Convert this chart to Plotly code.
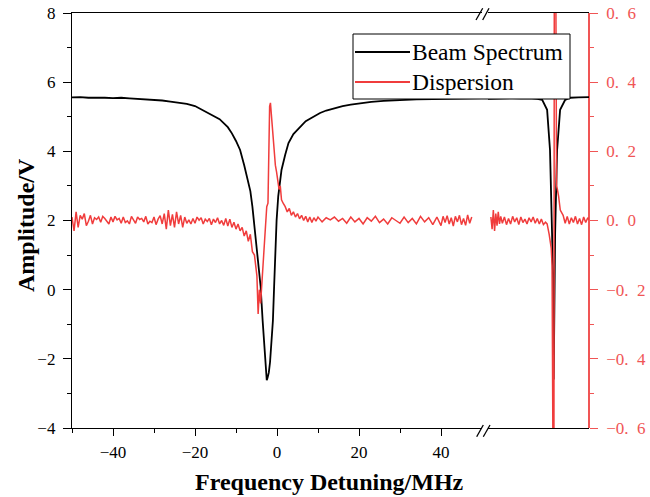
import plotly.graph_objects as go

# ---------------- data ----------------
# Left segment (MHz, -50..50)
beam_x = [-50, -48, -46, -44, -42, -40, -38, -36, -34, -32, -30, -28, -26, -24, -22, -20,
          -18, -16, -14, -12, -11, -10, -9, -8, -7, -6.5, -6, -5.5, -5, -4.5, -4, -3.5, -3,
          -2.7, -2.5, -2.3, -2, -1.7, -1.3, -1, -0.7, -0.4, -0.1, 0.3, 0.7, 1.1, 2, 2.8, 4,
          5.6, 7, 8.9, 10.5, 12, 14, 16, 18, 20, 23, 26, 30, 34, 38, 42, 46, 50]
beam_y = [5.56, 5.57, 5.55, 5.56, 5.55, 5.54, 5.55, 5.53, 5.52, 5.51, 5.48, 5.47, 5.44, 5.41,
          5.37, 5.31, 5.18, 5.07, 4.93, 4.7, 4.52, 4.3, 4.04, 3.6, 3.15, 2.85, 2.4, 1.85, 1.3,
          0.75, 0.1, -0.9, -1.95, -2.4, -2.62, -2.55, -2.4, -2.1, -1.4, -0.9, 0.1, 1.1, 2.0,
          2.7, 3.15, 3.46, 3.9, 4.24, 4.5, 4.71, 4.87, 5.0, 5.11, 5.18, 5.25, 5.31, 5.35, 5.39,
          5.43, 5.46, 5.49, 5.5, 5.51, 5.52, 5.53, 5.54]

disp_x = [-50, -49.5, -49, -48.5, -48, -47.5, -47, -46.5, -46, -45.5, -45, -44.5, -44, -43.5,
          -43, -42.5, -42, -41.5, -41, -40.5, -40, -39.5, -39, -38.5, -38, -37.5, -37, -36.5,
          -36, -35.5, -35, -34.5, -34, -33.5, -33, -32.5, -32, -31.5, -31, -30.5, -30, -29.5,
          -29, -28.5, -28, -27.5, -27, -26.5, -26, -25.5, -25, -24.5, -24, -23.5, -23, -22.5,
          -22, -21.5, -21, -20.5, -20, -19.5, -19, -18.5, -18, -17.5, -17, -16.5, -16, -15.5,
          -15, -14.5, -14, -13.5, -13, -12.5, -12, -11.5, -11, -10.5, -10, -9.5, -9, -8.5, -8,
          -7.5, -7, -6.5, -6, -5.5, -5.2, -4.9, -4.6, -4.3, -4.0, -3.7, -3.4, -3.1, -2.8, -2.5,
          -2.2, -2.0, -1.8, -1.6, -1.3, -1.0, -0.7, -0.4, -0.1, 0.2, 0.5, 0.8, 1.1, 1.5, 2, 2.5,
          3, 3.5, 4, 4.5, 5, 5.5, 6, 6.5, 7, 7.5, 8, 8.5, 9, 9.5, 10, 11, 12, 13, 14, 15, 16,
          17, 18, 19, 20, 21, 22, 23, 24, 25, 26, 27, 28, 29, 30, 31, 32, 33, 34, 35, 36, 37,
          38, 39, 40, 40.5, 41, 41.5, 42, 42.5, 43, 43.5, 44, 44.5, 45, 45.5, 46, 46.5, 47,
          47.5, 48, 48.5, 49, 49.6]
disp_y = [0.01, -0.03, 0.025, -0.02, 0.015, 0.004, 0.02, -0.015, -0.002, 0.015, -0.01, 0.008,
          0.003, 0.01, -0.005, 0.012, 0.006, -0.004, -0.01, 0.01, -0.004, 0.012, 0.002, 0.006,
          -0.008, 0.01, -0.006, -0.001, -0.01, 0.012, 0.0, -0.008, 0.01, 0.003, 0.006, -0.004,
          0.012, -0.01, -0.002, -0.006, 0.01, -0.012, 0.004, 0.014, -0.01, 0.02, -0.025, 0.03,
          -0.015, 0.018, -0.02, 0.025, -0.01, 0.015, -0.02, 0.01, -0.008, 0.002, -0.01, 0.006,
          -0.008, 0.01, 0.001, 0.008, -0.01, 0.004, -0.003, 0.006, -0.012, 0.004, -0.006,
          0.008, -0.01, 0.0, -0.014, 0.006, -0.016, 0.004, -0.02, -0.005, -0.025, -0.01, -0.03,
          -0.02, -0.045, -0.03, -0.06, -0.04, -0.09, -0.1, -0.13, -0.16, -0.27, -0.2, -0.24,
          -0.19, -0.13, -0.07, -0.01, 0.04, 0.05, 0.2, 0.33, 0.34, 0.29, 0.27, 0.19, 0.16, 0.14,
          0.12, 0.09, 0.1, 0.06, 0.05, 0.04, 0.025, 0.035, 0.015, 0.025, 0.01, 0.02, 0.005,
          0.015, 0.0, 0.012, -0.004, 0.01, -0.006, 0.008, -0.002, 0.01, -0.004, 0.008, 0.002,
          0.01, -0.002, 0.006, -0.008, 0.01, -0.004, 0.006, -0.01, 0.008, -0.002, 0.012,
          -0.006, 0.004, -0.01, 0.008, 0.0, -0.008, 0.01, -0.006, 0.006, -0.01, 0.012, -0.004,
          0.008, -0.012, 0.01, -0.015, 0.012, -0.006, 0.014, -0.01, 0.008, -0.016, 0.012,
          -0.004, 0.015, -0.012, 0.006, -0.014, 0.016, -0.008, 0.01]

# Right segment (relative MHz around the second resonance)
beam2_x = [-16, -14, -12, -10, -8, -6, -4, -2.8, -1.6, -0.9, -0.4, -0.15, 0.0, 0.15, 0.35,
           0.83, 1.56, 2.8, 4, 6, 8.6]
beam2_y = [5.52, 5.53, 5.52, 5.54, 5.53, 5.54, 5.52, 5.49, 5.2, 4.04, 1.64, 0.28, -2.6, -0.5,
           1.64, 4.04, 5.2, 5.49, 5.55, 5.56, 5.57]

disp2_x = [-15.3, -15.0, -14.7, -14.4, -14.1, -13.8, -13.5, -13.2, -12.9, -12.5, -12, -11.5,
           -11, -10.5, -10, -9.5, -9, -8.5, -8, -7.5, -7, -6.5, -6, -5.5, -5, -4.5, -4, -3.5,
           -3, -2.5, -2.0, -1.6, -1.1, -0.6, -0.4, -0.15, 0.05, 0.15, 0.5, 0.7, 0.9, 1.2, 1.6,
           2.3, 2.8, 3.3, 3.8, 4.3, 4.8, 5.3, 5.8, 6.3, 6.8, 7.3, 7.8, 8.3, 8.6]
disp2_y = [0.01, -0.025, 0.03, -0.03, 0.02, -0.015, 0.025, -0.01, 0.012, -0.008, 0.01,
           -0.012, 0.006, -0.01, 0.012, -0.004, 0.008, -0.012, 0.01, -0.006, 0.004, -0.01,
           0.008, -0.004, 0.01, -0.008, 0.006, -0.01, 0.004, -0.012, -0.005, -0.01, -0.04,
           -0.08, -0.13, -0.75, -0.75, 0.75, 0.75, 0.1, 0.09, 0.07, 0.03, 0.015, -0.008, 0.012,
           -0.01, 0.008, -0.006, 0.012, -0.01, 0.006, -0.012, 0.01, -0.006, 0.008, 0.002]

names = ["Beam Spectrum", "Dispersion"]
y_ticks = [-4, -2, 0, 2, 4, 6, 8]
y2_ticks = [-0.6, -0.4, -0.2, 0.0, 0.2, 0.4, 0.6]
y2_ticktext = ["\u22120.\u20026", "\u22120.\u20024", "\u22120.\u20022", "0.\u20020",
               "0.\u20022", "0.\u20024", "0.\u20026"]
x_ticks = [-40, -20, 0, 20, 40]
x_minor = [-50, -30, -10, 10, 30]

# ---------------- styling ----------------
BLACK = "#000000"
RED = "#F03C3C"
RED_AX = "#F05555"
FONT = "Liberation Serif"
W, H = 650, 497
L, R, T, B = 72, 589, 13, 428  # plot area in pixels


def px(x):
    return (x - L) / (R - L)


def py(y):
    return (B - y) / (B - T)


split1 = px(482)
split2 = px(488)

fig = go.Figure()
fig.add_trace(go.Scatter(x=beam_x, y=beam_y, mode="lines", name=names[0],
                         line=dict(color=BLACK, width=1.8), xaxis="x", yaxis="y",
                         showlegend=False))
fig.add_trace(go.Scatter(x=beam2_x, y=beam2_y, mode="lines", name=names[0],
                         line=dict(color=BLACK, width=1.8), xaxis="x2", yaxis="y",
                         showlegend=False))
fig.add_trace(go.Scatter(x=disp_x, y=disp_y, mode="lines", name=names[1],
                         line=dict(color=RED, width=1.5), xaxis="x", yaxis="y2",
                         showlegend=False))
fig.add_trace(go.Scatter(x=disp2_x, y=disp2_y, mode="lines", name=names[1],
                         line=dict(color=RED, width=1.5), xaxis="x2", yaxis="y2",
                         showlegend=False))

tickfont = dict(family=FONT, size=17, color=BLACK)

fig.update_layout(
    width=W, height=H, autosize=False,
    margin=dict(l=L, r=W - R, t=T, b=H - B, pad=0, autoexpand=False),
    paper_bgcolor="white", plot_bgcolor="white",
    showlegend=False,
    xaxis=dict(domain=[0, split1], range=[-50, 50], anchor="y", automargin=False,
               showline=True, linecolor=BLACK, linewidth=1.3, mirror=True,
               showgrid=False, zeroline=False,
               tickmode="array", tickvals=x_ticks, ticks="outside", ticklen=7,
               tickwidth=1.3, tickcolor=BLACK, tickfont=tickfont, ticklabelstandoff=1,
               minor=dict(tickmode="array", tickvals=x_minor, ticks="outside",
                          ticklen=4, tickwidth=1.3, tickcolor=BLACK)),
    xaxis3=dict(overlaying="x", side="top", range=[-50, 50], anchor="y", automargin=False,
                showline=False, showgrid=False, zeroline=False, showticklabels=False,
                tickmode="array", tickvals=x_ticks, ticks="inside", ticklen=7,
                tickwidth=1.3, tickcolor=BLACK,
                minor=dict(tickmode="array", tickvals=x_minor, ticks="inside",
                           ticklen=4, tickwidth=1.3, tickcolor=BLACK)),
    xaxis2=dict(domain=[split2, 1], range=[-16, 8.6], anchor="y", automargin=False,
                showline=True, linecolor=BLACK, linewidth=1.3, mirror=True,
                showgrid=False, zeroline=False, showticklabels=False, ticks=""),
    yaxis=dict(range=[-4, 8], anchor="x", domain=[0, 1], automargin=False,
               showline=True, linecolor=BLACK, linewidth=1.3,
               showgrid=False, zeroline=False,
               tickmode="array", tickvals=y_ticks, ticks="outside", ticklen=8,
               tickwidth=1.3, tickcolor=BLACK, tickfont=tickfont, ticklabelstandoff=4,
               minor=dict(dtick=1, tick0=0, ticks="outside", ticklen=4,
                          tickwidth=1.3, tickcolor=BLACK)),
    yaxis2=dict(range=[-0.6, 0.6], overlaying="y", side="right", anchor="free",
                position=1.0, automargin=False,
                showline=True, linecolor=RED_AX, linewidth=1.5,
                showgrid=False, zeroline=False,
                tickmode="array", tickvals=y2_ticks, ticktext=y2_ticktext,
                ticks="outside", ticklen=8, tickwidth=1.3, tickcolor=RED_AX,
                tickfont=dict(family=FONT, size=17, color=RED_AX), ticklabelstandoff=5,
                minor=dict(dtick=0.1, tick0=0, ticks="outside", ticklen=4,
                           tickwidth=1.3, tickcolor=RED_AX)),
)

shapes = []
# axis-break marks "//"
for (x0, y0, x1, y1) in [(476.7, 436.7, 483.3, 425), (483.3, 436.7, 490, 425),
                         (476, 20, 482.7, 8.3), (482.7, 20, 489, 8.3)]:
    shapes.append(dict(type="line", xref="paper", yref="paper",
                       x0=px(x0), y0=py(y0), x1=px(x1), y1=py(y1),
                       line=dict(color=BLACK, width=1.3)))
# legend box
shapes.append(dict(type="rect", xref="paper", yref="paper",
                   x0=px(353), y0=py(99), x1=px(570), y1=py(34),
                   fillcolor="white", line=dict(color=BLACK, width=1)))
legend_rows = [(52, BLACK), (82, RED)]
for (yy, col) in legend_rows:
    shapes.append(dict(type="line", xref="paper", yref="paper",
                       x0=px(355), y0=py(yy), x1=px(410), y1=py(yy),
                       line=dict(color=col, width=1.8)))
fig.update_layout(shapes=shapes)

annotations = []
for name, (yy, col) in zip(names, legend_rows):
    annotations.append(dict(text=name, xref="paper", yref="paper",
                            x=px(410), y=py(yy), xanchor="left", yanchor="middle",
                            showarrow=False, font=dict(family=FONT, size=23.5, color=BLACK)))
annotations.append(dict(text="<b>Frequency Detuning/MHz</b>", xref="paper", yref="paper",
                        x=px(329), y=0, yshift=-(482 - B), xanchor="center",
                        yanchor="middle", showarrow=False,
                        font=dict(family=FONT, size=24, color=BLACK)))
annotations.append(dict(text="<b>Amplitude/V</b>", xref="paper", yref="paper",
                        x=0, xshift=-(L - 26), y=py(225), xanchor="center",
                        yanchor="middle", textangle=-90, showarrow=False,
                        font=dict(family=FONT, size=24, color=BLACK)))
fig.update_layout(annotations=annotations)

fig.write_html(
    "out.html",
    config={"responsive": False, "displayModeBar": False},
    post_script="document.body.style.margin='0';document.body.style.overflow='hidden';",
)
